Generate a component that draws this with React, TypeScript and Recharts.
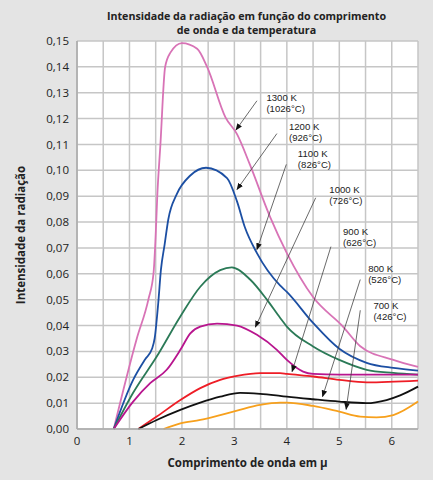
import { LineChart, Line, XAxis, YAxis, CartesianGrid, ReferenceLine, ReferenceDot, Label } from 'recharts'

// wavelength (μ) / intensity pairs, one list per temperature
const k1300X = [0.7, 1.14, 1.36, 1.46, 1.5, 1.53, 1.59, 1.68, 1.78, 2.0, 2.29, 2.48, 2.83, 3.05, 3.3, 3.68, 4.0, 4.5, 5.07, 5.4, 6.03, 6.5]
const k1300Y = [0, 0.035, 0.05, 0.0605, 0.075, 0.09, 0.11, 0.14, 0.1455, 0.1492, 0.147, 0.14, 0.1205, 0.114, 0.102, 0.082, 0.068, 0.051, 0.0396, 0.032, 0.0267, 0.024]

const k1200X = [0.7, 1.07, 1.3, 1.43, 1.48, 1.55, 1.6, 1.67, 1.74, 1.9, 2.16, 2.46, 2.86, 3.05, 3.2, 3.43, 3.87, 4.0, 4.5, 5.0, 5.52, 6.03, 6.5]
const k1200Y = [0, 0.019, 0.027, 0.031, 0.035, 0.049, 0.0616, 0.0713, 0.081, 0.0907, 0.098, 0.101, 0.097, 0.088, 0.078, 0.068, 0.0555, 0.053, 0.041, 0.031, 0.0256, 0.0236, 0.0226]

const k1100X = [0.7, 1.07, 1.52, 1.97, 2.35, 2.73, 2.95, 3.3, 3.62, 3.87, 4.0, 4.5, 5.0, 5.52, 6.03, 6.5]
const k1100Y = [0, 0.014, 0.028, 0.0435, 0.055, 0.0614, 0.0625, 0.0578, 0.05, 0.043, 0.0396, 0.0319, 0.0267, 0.0229, 0.0217, 0.021]

const k1000X = [0.7, 1.07, 1.4, 1.71, 1.97, 2.16, 2.35, 2.67, 3.05, 3.43, 3.81, 4.0, 4.31, 4.5, 5.0, 6.0, 6.5]
const k1000Y = [0, 0.0106, 0.0178, 0.0229, 0.0306, 0.037, 0.0396, 0.0407, 0.04, 0.0364, 0.0306, 0.0267, 0.0222, 0.0213, 0.021, 0.021, 0.021]

const k900X = [1.17, 1.52, 1.97, 2.35, 2.73, 3.05, 3.49, 3.87, 4.0, 4.5, 5.0, 5.52, 6.5]
const k900Y = [0, 0.0048, 0.0112, 0.0158, 0.019, 0.0205, 0.0216, 0.0216, 0.0213, 0.0203, 0.019, 0.018, 0.0187]

const k800X = [1.17, 1.52, 1.97, 2.35, 2.73, 3.11, 3.49, 3.87, 4.0, 4.5, 5.0, 5.52, 5.9, 6.16, 6.5]
const k800Y = [0, 0.0035, 0.0074, 0.0102, 0.0125, 0.014, 0.0136, 0.0128, 0.0125, 0.0115, 0.0106, 0.01, 0.0112, 0.013, 0.0164]

const k700X = [1.65, 1.97, 2.35, 2.73, 3.05, 3.49, 3.87, 4.0, 4.5, 5.0, 5.4, 5.71, 6.03, 6.5]
const k700Y = [0, 0.0022, 0.0035, 0.0054, 0.0071, 0.0093, 0.0102, 0.0102, 0.0089, 0.0067, 0.0048, 0.0045, 0.0054, 0.0106]

const series = [
  { key: '1300', xs: k1300X, ys: k1300Y, color: '#d873b6' },
  { key: '1200', xs: k1200X, ys: k1200Y, color: '#1c4fa3' },
  { key: '1100', xs: k1100X, ys: k1100Y, color: '#2b7a57' },
  { key: '1000', xs: k1000X, ys: k1000Y, color: '#b8158e' },
  { key: '900', xs: k900X, ys: k900Y, color: '#ee1d26' },
  { key: '800', xs: k800X, ys: k800Y, color: '#111111' },
  { key: '700', xs: k700X, ys: k700Y, color: '#f7a01c' },
]

// annotation texts, label anchor and arrow (start -> tip), all in data units
const annTop = ['1300 K', '1200 K', '1100 K', '1000 K', '900 K', '800 K', '700 K']
const annBottom = ['(1026°C)', '(926°C)', '(826°C)', '(726°C)', '(626°C)', '(526°C)', '(426°C)']
const annLabelX = [3.61, 4.04, 4.21, 4.81, 5.07, 5.55, 5.65]
const annLabelY = [0.1283, 0.1168, 0.1066, 0.0924, 0.0762, 0.0619, 0.0479]
const arrowFrom = [[3.43, 0.1269], [3.81, 0.1142], [3.99, 0.1023], [4.55, 0.0894], [4.84, 0.0705], [5.4, 0.0578], [5.4, 0.0459]]
const arrowTo = [[3.03, 0.1156], [3.05, 0.0926], [3.43, 0.0694], [3.4, 0.0394], [4.1, 0.0222], [4.68, 0.0125], [5.13, 0.0076]]

const xTicks = [0, 0.5, 1, 1.5, 2, 2.5, 3, 3.5, 4, 4.5, 5, 5.5, 6, 6.5]
const yTicks = [0, 0.01, 0.02, 0.03, 0.04, 0.05, 0.06, 0.07, 0.08, 0.09, 0.1, 0.11, 0.12, 0.13, 0.14, 0.15]

const font = '"Open Sans", "Noto Sans", sans-serif'
const annFont = '"Liberation Sans", Arial, sans-serif'

function AnnText({ cx, cy, top, bottom }: any) {
  if (cx == null || cy == null) return null
  return (
    <g fontSize={9.6} fontFamily={annFont} fill="#222">
      <text x={cx} y={cy + 3.5}>{top}</text>
      <text x={cx} y={cy + 14.5}>{bottom}</text>
    </g>
  )
}

export default function App() {
  return (
    <div style={{ position: 'absolute', left: 0, top: 0, width: 433, height: 480, background: '#e4e4e4', fontFamily: font }}>
      <div style={{ position: 'absolute', top: 9, width: 433, textAlign: 'center', fontSize: 10.7, fontWeight: 700, lineHeight: '14px', color: '#222', paddingLeft: 60, boxSizing: 'border-box' }}>
        Intensidade da radiação em função do comprimento<br />de onda e da temperatura
      </div>
      <LineChart width={433} height={480} margin={{ top: 41, right: 15, bottom: 0, left: 0 }} style={{ position: 'absolute', left: 0, top: 0 }}>
        <defs>
          <marker id="arr" viewBox="0 0 10 10" refX="9" refY="5" markerWidth="7" markerHeight="7" orient="auto-start-reverse" markerUnits="userSpaceOnUse">
            <path d="M0,1 L10,5 L0,9 z" fill="#111" />
          </marker>
        </defs>
        <CartesianGrid stroke="#c6c6c6" strokeWidth={1.5} fill="#ffffff" horizontalValues={yTicks} verticalValues={xTicks} />
        <XAxis
          type="number"
          dataKey="x"
          domain={[0, 6.5]}
          ticks={xTicks}
          interval={0}
          allowDuplicatedCategory={false}
          tickFormatter={(v: number) => (Number.isInteger(v) ? String(v) : '')}
          tick={{ fill: '#222', fontSize: 11.5, fontFamily: font }}
          tickLine={false}
          axisLine={{ stroke: '#aaaaaa', strokeWidth: 1.5 }}
          height={51}
        >
          <Label value="Comprimento de onda em μ" position="insideBottom" offset={13} style={{ fontWeight: 700, fontSize: 11.5, fill: '#222', fontFamily: font }} />
        </XAxis>
        <YAxis
          type="number"
          domain={[0, 0.15]}
          ticks={yTicks}
          interval={0}
          tickFormatter={(v: number) => v.toFixed(2).replace('.', ',')}
          tick={{ fill: '#222', fontSize: 11.5, fontFamily: font }}
          tickLine={false}
          axisLine={{ stroke: '#aaaaaa', strokeWidth: 1.5 }}
          width={77}
        >
          <Label value="Intensidade da radiação" angle={-90} position="insideLeft" offset={21} style={{ textAnchor: 'middle', fontWeight: 700, fontSize: 11.5, fill: '#222', fontFamily: font }} />
        </YAxis>
        {series.map(s => (
          <Line
            key={s.key}
            data={s.xs.map((x, i) => ({ x, y: s.ys[i] }))}
            dataKey="y"
            type="monotone"
            stroke={s.color}
            strokeWidth={1.8}
            dot={false}
            activeDot={false}
            isAnimationActive={false}
          />
        ))}
        {arrowFrom.map((f, i) => (
          <ReferenceLine
            key={'a' + i}
            segment={[{ x: f[0], y: f[1] }, { x: arrowTo[i][0], y: arrowTo[i][1] }]}
            stroke="#444"
            strokeWidth={0.8}
            markerEnd="url(#arr)"
          />
        ))}
        {annTop.map((t, i) => (
          <ReferenceDot
            key={'t' + i}
            x={annLabelX[i]}
            y={annLabelY[i]}
            r={0}
            shape={(p: any) => <AnnText cx={p.cx} cy={p.cy} top={t} bottom={annBottom[i]} />}
          />
        ))}
      </LineChart>
    </div>
  )
}
